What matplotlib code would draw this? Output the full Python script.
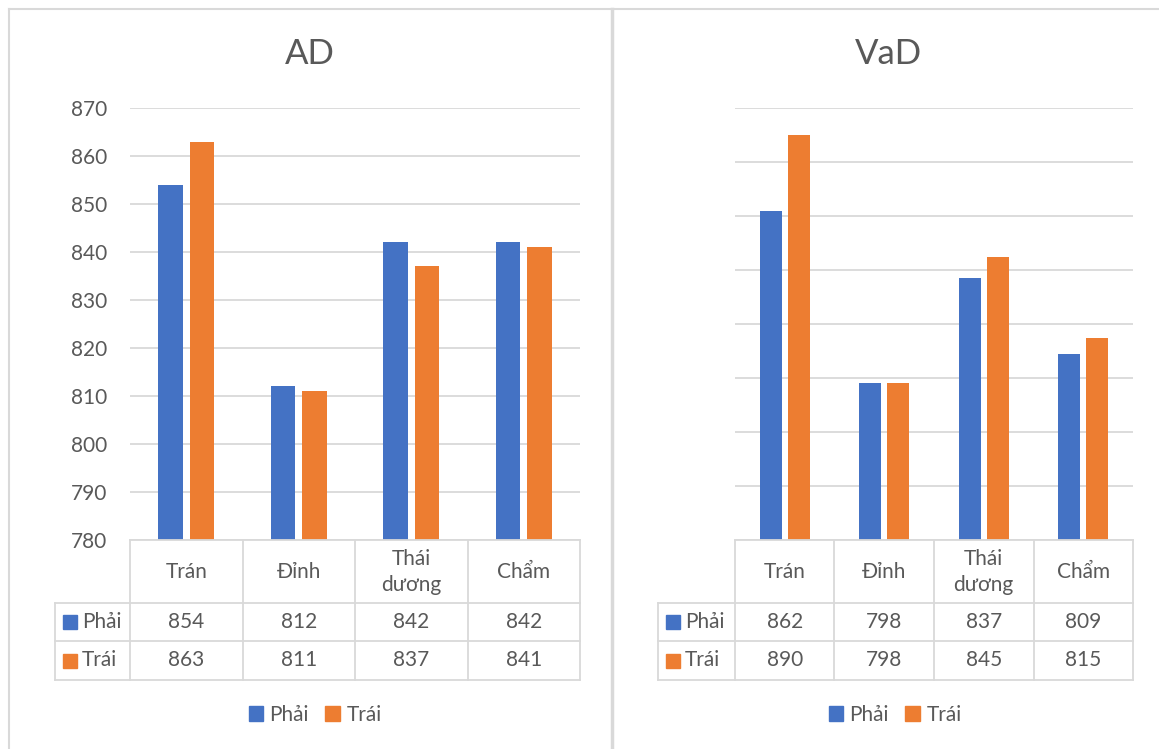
import matplotlib
matplotlib.use("Agg")
import matplotlib.pyplot as plt
from matplotlib.patches import Patch
from matplotlib.lines import Line2D

plt.rcParams['font.family'] = ['Lato', 'DejaVu Sans']

# data
categories = ["Trán", "Đỉnh", "Thái\ndương", "Chẩm"]
series_names = ["Phải", "Trái"]
ad_phai = [854, 812, 842, 842]
ad_trai = [863, 811, 837, 841]
vad_phai = [862, 798, 837, 809]
vad_trai = [890, 798, 845, 815]

blue = "#4472C4"
orange = "#ED7D31"
text_col = "#595959"
grid_col = "#D9D9D9"
fs = 15

W, H = 1159, 749
fig = plt.figure(figsize=(W / 100, H / 100), dpi=100)


def px_box(x0, y0, x1, y1):
    # pixel box (top-left origin) -> figure fraction rect
    return [x0 / W, 1 - y1 / H, (x1 - x0) / W, (y1 - y0) / H]


def draw_panel(title, phai, trai, ymin, ymax, ystep, show_labels,
               plot_x0, plot_x1, table_x0, title_x, legend_x):
    n = len(categories)
    ax = fig.add_axes(px_box(plot_x0, 108, plot_x1, 540))
    x = list(range(n))
    ax.bar([i - 0.14 for i in x], phai, width=0.22, color=blue, zorder=3)
    ax.bar([i + 0.14 for i in x], trai, width=0.22, color=orange, zorder=3)
    ax.set_xlim(-0.5, n - 0.5)
    ax.set_ylim(ymin, ymax)
    ticks = list(range(ymin, ymax + 1, ystep))
    ax.set_yticks(ticks)
    ax.yaxis.grid(True, color=grid_col, linewidth=1.3, zorder=0)
    ax.set_xticks([])
    for s in ax.spines.values():
        s.set_visible(False)
    ax.tick_params(axis='y', length=0, pad=16.5, labelsize=fs, labelcolor=text_col)
    if not show_labels:
        ax.set_yticklabels([])
    fig.text(title_x / W, 1 - 54 / H, title, ha='center', va='center',
             fontsize=25, color=text_col)

    # data table
    cell_w = (plot_x1 - plot_x0) / n
    left = -0.5 - (plot_x0 - table_x0) / cell_w
    tax = fig.add_axes(px_box(table_x0, 540, plot_x1, 680))
    tax.set_xlim(left, n - 0.5)
    tax.set_ylim(140, 0)
    tax.axis('off')
    lw = 1.3
    for b in range(n + 1):
        tax.plot([b - 0.5, b - 0.5], [0, 140], color=grid_col, lw=lw, clip_on=False)
    tax.plot([left, left], [63, 140], color=grid_col, lw=lw, clip_on=False)
    tax.plot([-0.5, n - 0.5], [0, 0], color=grid_col, lw=lw, clip_on=False)
    for yy in (63, 101, 140):
        tax.plot([left, n - 0.5], [yy, yy], color=grid_col, lw=lw, clip_on=False)
    for i, c in enumerate(categories):
        tax.text(i, 32, c, ha='center', va='center', fontsize=fs,
                 color=text_col, linespacing=1.4)
    for row, (name, vals, col) in enumerate(zip(series_names, [phai, trai], [blue, orange])):
        yc = 82 + row * 38.5
        kx = left + 15 / cell_w
        tax.plot([kx], [yc], marker='s', markersize=10, color=col, clip_on=False)
        tax.text(kx + 12 / cell_w, yc, name, ha='left', va='center',
                 fontsize=fs, color=text_col)
        for i, v in enumerate(vals):
            tax.text(i, yc, str(v), ha='center', va='center', fontsize=fs, color=text_col)

    handles = [Patch(color=blue, label=series_names[0]),
               Patch(color=orange, label=series_names[1])]
    fig.legend(handles=handles, loc='center', bbox_to_anchor=(legend_x / W, 1 - 715 / H),
               ncol=2, frameon=False, fontsize=fs, handlelength=0.7, handleheight=0.7,
               handletextpad=0.3, columnspacing=0.8, labelcolor=text_col)


draw_panel("AD", ad_phai, ad_trai, 780, 870, 10, True, 130, 580, 55, 310, 315)
draw_panel("VaD", vad_phai, vad_trai, 740, 900, 20, False, 735, 1133, 658, 888, 895)

# panel borders
for line in [
    Line2D([9 / W, W / W], [1 - 9 / H, 1 - 9 / H], color=grid_col, lw=1.5),
    Line2D([9 / W, 9 / W], [0, 1 - 9 / H], color=grid_col, lw=1.5),
    Line2D([612 / W, 612 / W], [0, 1 - 9 / H], color=grid_col, lw=2.5),
]:
    fig.add_artist(line)

fig.savefig("out.png", dpi=100)
